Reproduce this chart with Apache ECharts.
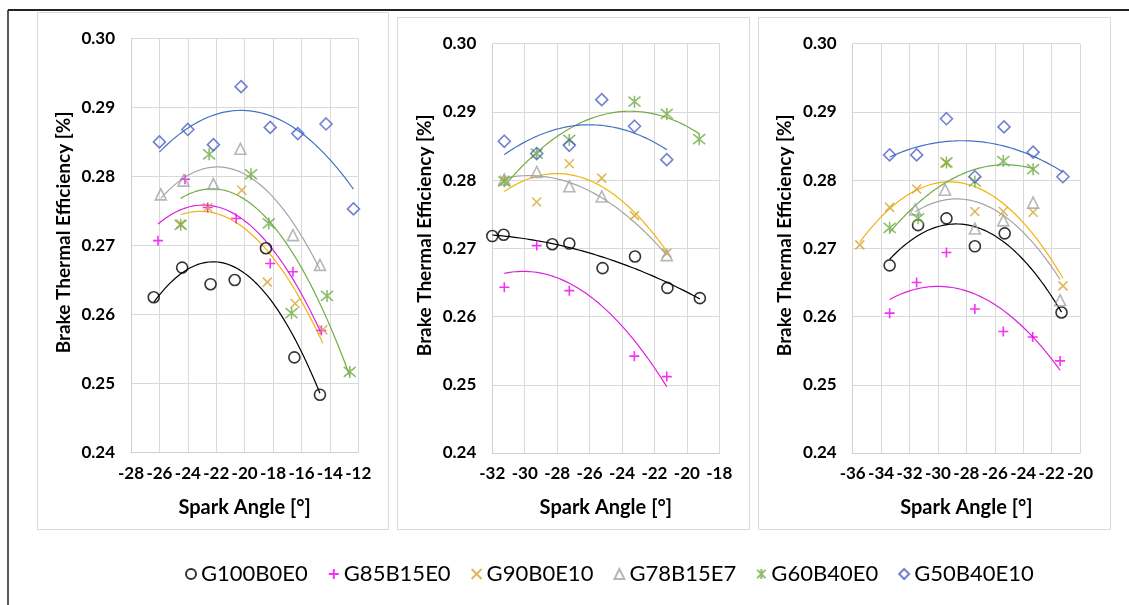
<!DOCTYPE html>
<html>
<head>
<meta charset="utf-8">
<script src="https://cdn.jsdelivr.net/npm/echarts@6/dist/echarts.min.js"></script>
<style>
  html, body { margin: 0; padding: 0; background: #fff; }
  #chart { width: 1129px; height: 605px; }
</style>
</head>
<body>
<div id="chart"></div>
<script>
// 燃料名稱
const fuels = ['G100B0E0', 'G85B15E0', 'G90B0E10', 'G78B15E7', 'G60B40E0', 'G50B40E10'];

// 左圖
const p1_G100B0E0 = [[-26.4, 0.2625], [-24.4, 0.2668], [-22.4, 0.2644], [-20.7, 0.2650], [-18.5, 0.2696], [-16.5, 0.2538], [-14.7, 0.2484]];
const p1_G85B15E0 = [[-26.1, 0.2707], [-24.2, 0.2796], [-22.6, 0.2755], [-20.6, 0.2739], [-18.2, 0.2674], [-16.6, 0.2662], [-14.6, 0.2577]];
const p1_G90B0E10 = [[-24.5, 0.2731], [-22.6, 0.2755], [-20.2, 0.2780], [-18.4, 0.2647], [-16.45, 0.2616], [-14.5, 0.2578]];
const p1_G78B15E7 = [[-25.9, 0.2774], [-24.3, 0.2794], [-22.2, 0.2789], [-20.3, 0.2840], [-16.6, 0.2715], [-14.7, 0.2672]];
const p1_G60B40E0 = [[-24.5, 0.2730], [-22.5, 0.2832], [-19.55, 0.2803], [-18.3, 0.2732], [-16.7, 0.2602], [-14.2, 0.2627], [-12.6, 0.2517]];
const p1_G50B40E10 = [[-26.0, 0.2850], [-24.0, 0.2868], [-22.2, 0.2846], [-20.25, 0.2930], [-18.2, 0.2871], [-16.26, 0.2862], [-14.27, 0.2876], [-12.34, 0.2753]];

// 中圖
const p2_G100B0E0 = [[-32.0, 0.2718], [-31.3, 0.2720], [-28.3, 0.2706], [-27.25, 0.2707], [-25.2, 0.2671], [-23.2, 0.2688], [-21.2, 0.2642], [-19.2, 0.2627]];
const p2_G85B15E0 = [[-31.26, 0.2643], [-29.26, 0.2704], [-27.25, 0.2638], [-23.24, 0.2542], [-21.24, 0.2512]];
const p2_G90B0E10 = [[-31.26, 0.2800], [-29.26, 0.2768], [-27.25, 0.2824], [-25.25, 0.2803], [-23.23, 0.2748], [-21.24, 0.2693]];
const p2_G78B15E7 = [[-31.26, 0.2801], [-29.26, 0.2812], [-27.25, 0.2791], [-25.25, 0.2776], [-21.24, 0.2690]];
const p2_G60B40E0 = [[-31.26, 0.2798], [-29.26, 0.2839], [-27.25, 0.2859], [-23.23, 0.2915], [-21.24, 0.2897], [-19.24, 0.2860]];
const p2_G50B40E10 = [[-31.26, 0.2857], [-29.26, 0.2839], [-27.25, 0.2851], [-25.25, 0.2918], [-23.23, 0.2879], [-21.24, 0.2830]];

// 右圖
const p3_G100B0E0 = [[-33.4, 0.2675], [-31.4, 0.2734], [-29.4, 0.2744], [-27.4, 0.2703], [-25.3, 0.2722], [-21.3, 0.2606]];
const p3_G85B15E0 = [[-33.4, 0.2605], [-31.5, 0.2650], [-29.4, 0.2694], [-27.4, 0.2611], [-25.4, 0.2578], [-23.33, 0.2570], [-21.4, 0.2535]];
const p3_G90B0E10 = [[-35.5, 0.2705], [-33.4, 0.2760], [-31.5, 0.2787], [-29.4, 0.2825], [-27.4, 0.2754], [-25.4, 0.2754], [-23.3, 0.2753], [-21.2, 0.2645]];
const p3_G78B15E7 = [[-31.6, 0.2757], [-29.5, 0.2786], [-27.4, 0.2729], [-25.4, 0.2741], [-23.3, 0.2767], [-21.4, 0.2624]];
const p3_G60B40E0 = [[-33.4, 0.2730], [-31.4, 0.2744], [-29.4, 0.2826], [-27.4, 0.2798], [-25.4, 0.2828], [-23.3, 0.2816]];
const p3_G50B40E10 = [[-33.4, 0.2837], [-31.5, 0.2837], [-29.4, 0.2890], [-27.4, 0.2805], [-25.35, 0.2878], [-23.3, 0.2841], [-21.2, 0.2805]];

// 座標軸範圍
const xRanges = [[-28, -12], [-32, -18], [-36, -20]];
const yRange = [0.24, 0.30];

const panelData = [
  [p1_G100B0E0, p1_G85B15E0, p1_G90B0E10, p1_G78B15E7, p1_G60B40E0, p1_G50B40E10],
  [p2_G100B0E0, p2_G85B15E0, p2_G90B0E10, p2_G78B15E7, p2_G60B40E0, p2_G50B40E10],
  [p3_G100B0E0, p3_G85B15E0, p3_G90B0E10, p3_G78B15E7, p3_G60B40E0, p3_G50B40E10],
];

// 標記樣式
const markers = [
  { symbol: 'circle', size: 11, color: '#000000', line: '#000000' },
  { symbol: 'path://M5,0 L5,10 M0,5 L10,5', size: 10, color: '#f000f0', line: '#dd1fdd' },
  { symbol: 'path://M0,0 L10,10 M10,0 L0,10', size: 9, color: '#d6a531', line: '#f2b40f' },
  { symbol: 'triangle', size: 11, color: '#a5a5a5', line: '#a5a5a5' },
  { symbol: 'path://M0,0 L10,10 M10,0 L0,10 M5,-1 L5,11', size: 12, color: '#70ad47', line: '#70ad47' },
  { symbol: 'diamond', size: 12, color: '#4f63c4', line: '#4472c4' },
];

// 二次多項式趨勢線（最小平方法）
const quadFit = (pts) => {
  const n = pts.length;
  const mx = pts.reduce((s, p) => s + p[0], 0) / n;
  let s = [0, 0, 0, 0, 0], t = [0, 0, 0];
  pts.forEach(([x0, y]) => {
    const x = x0 - mx;
    for (let k = 0; k < 5; k++) s[k] += Math.pow(x, k);
    for (let k = 0; k < 3; k++) t[k] += y * Math.pow(x, k);
  });
  const det3 = (m) =>
    m[0][0] * (m[1][1] * m[2][2] - m[1][2] * m[2][1]) -
    m[0][1] * (m[1][0] * m[2][2] - m[1][2] * m[2][0]) +
    m[0][2] * (m[1][0] * m[2][1] - m[1][1] * m[2][0]);
  const A = [[s[0], s[1], s[2]], [s[1], s[2], s[3]], [s[2], s[3], s[4]]];
  const D = det3(A);
  const coef = [0, 1, 2].map((c) => {
    const M = A.map((row, i) => row.map((v, j) => (j === c ? t[i] : v)));
    return det3(M) / D;
  });
  const xs = pts.map((p) => p[0]);
  const lo = Math.min(...xs), hi = Math.max(...xs);
  const out = [];
  for (let i = 0; i <= 60; i++) {
    const x = lo + ((hi - lo) * i) / 60;
    const u = x - mx;
    out.push([x, coef[0] + coef[1] * u + coef[2] * u * u]);
  }
  return out;
};

const gridPos = [
  { left: 131, top: 38.3, width: 227.3, height: 414.4 },
  { left: 492.3, top: 43.7, width: 227, height: 409.3 },
  { left: 852.7, top: 43.7, width: 227.3, height: 409.3 },
];

const boldText = { fontFamily: 'Lato', fontWeight: 'bold', color: '#000' };

const xAxes = xRanges.map((r, i) => ({
  type: 'value',
  gridIndex: i,
  min: r[0],
  max: r[1],
  interval: 2,
  axisLine: { show: true, lineStyle: { color: '#d0d0d0' } },
  axisTick: { show: false },
  axisLabel: { ...boldText, fontSize: 17, margin: 12 },
  splitLine: { show: true, lineStyle: { color: '#d9d9d9' } },
  name: 'Spark Angle [°]',
  nameLocation: 'middle',
  nameGap: 45,
  nameTextStyle: { ...boldText, fontSize: 20 },
}));

const yAxes = gridPos.map((g, i) => ({
  type: 'value',
  gridIndex: i,
  min: yRange[0],
  max: yRange[1],
  interval: 0.01,
  axisLine: { show: true, lineStyle: { color: '#d0d0d0' } },
  axisTick: { show: false },
  axisLabel: { ...boldText, fontSize: 17, margin: 16, formatter: (v) => v.toFixed(2) },
  splitLine: { show: true, lineStyle: { color: '#d9d9d9' } },
  name: 'Brake Thermal Efficiency [%]',
  nameLocation: 'middle',
  nameGap: 58,
  nameTextStyle: { ...boldText, fontSize: 19, padding: [0, 0, 0, 26] },
}));

const series = [];
panelData.forEach((panel, pi) => {
  panel.forEach((pts, si) => {
    const m = markers[si];
    series.push({
      type: 'line',
      name: fuels[si] + ' trend',
      xAxisIndex: pi,
      yAxisIndex: pi,
      data: quadFit(pts),
      showSymbol: false,
      silent: true,
      lineStyle: { color: m.line, width: 1.2 },
      z: 2,
    });
  });
  panel.forEach((pts, si) => {
    const m = markers[si];
    series.push({
      type: 'scatter',
      name: fuels[si],
      xAxisIndex: pi,
      yAxisIndex: pi,
      data: pts,
      symbol: m.symbol,
      symbolSize: m.size,
      itemStyle: { color: 'rgba(0,0,0,0)', borderColor: m.color, borderWidth: 1.6 },
      z: 3,
    });
  });
});

const chart = echarts.init(document.getElementById('chart'));
chart.setOption({
  animation: false,
  backgroundColor: '#fff',
  grid: gridPos,
  xAxis: xAxes,
  yAxis: yAxes,
  legend: {
    data: fuels,
    left: 180,
    top: 558,
    itemWidth: 10,
    itemHeight: 10,
    itemGap: 20,
    textStyle: { fontFamily: 'Liberation Sans Narrow, Lato', fontSize: 22, color: '#000' },
  },
  graphic: [
    { type: 'line', shape: { x1: 8, y1: 10, x2: 1129, y2: 10 }, style: { stroke: '#222', lineWidth: 2 } },
    { type: 'line', shape: { x1: 8, y1: 10, x2: 8, y2: 605 }, style: { stroke: '#222', lineWidth: 1.5 } },
    { type: 'rect', shape: { x: 37.5, y: 12.5, width: 351, height: 517 }, style: { fill: 'none', stroke: '#d9d9d9', lineWidth: 1 } },
    { type: 'rect', shape: { x: 397.5, y: 17.5, width: 352, height: 512 }, style: { fill: 'none', stroke: '#d9d9d9', lineWidth: 1 } },
    { type: 'rect', shape: { x: 758.5, y: 17.5, width: 352, height: 512 }, style: { fill: 'none', stroke: '#d9d9d9', lineWidth: 1 } },
  ],
  series,
});
</script>
</body>
</html>
